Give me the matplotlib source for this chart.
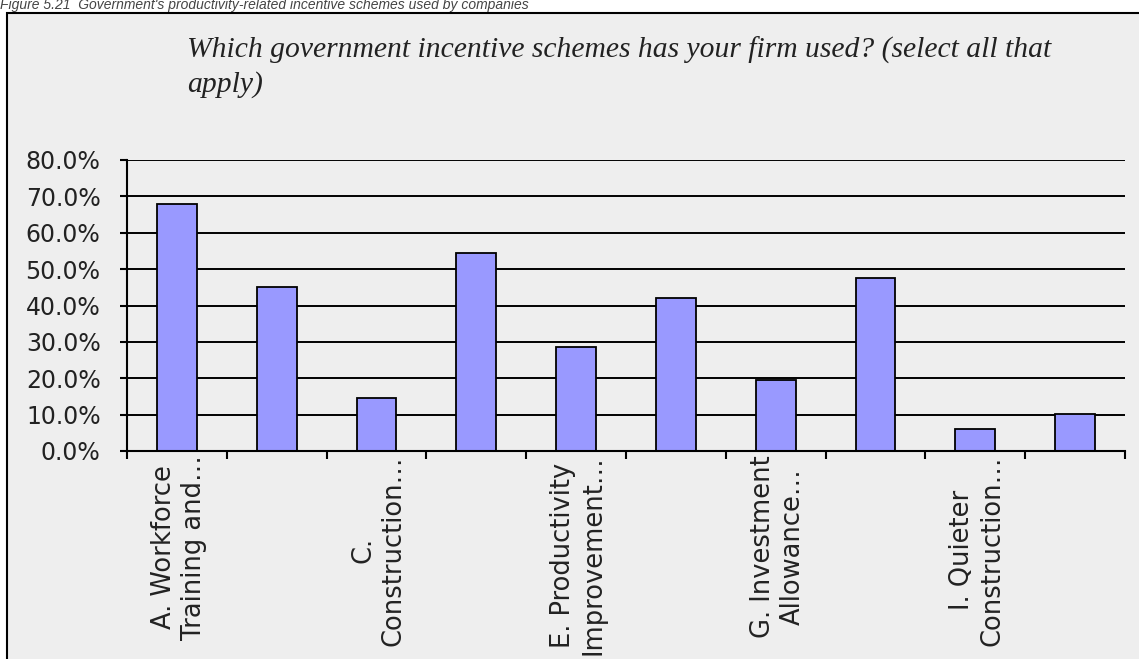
import matplotlib
matplotlib.use("Agg")
import matplotlib.pyplot as plt
from matplotlib.patches import Rectangle
from matplotlib.ticker import FuncFormatter, FixedLocator

# share of firms that used each incentive scheme
schemes = ["A", "B", "C", "D", "E", "F", "G", "H", "I", "J"]
share_used = [0.678, 0.451, 0.145, 0.543, 0.287, 0.421, 0.195, 0.476, 0.060, 0.102]

# only every second category gets a label on the axis
shown_labels = {
    0: "A. Workforce\nTraining and\u2026",
    2: "C.\nConstruction\u2026",
    4: "E. Productivity\nImprovement\u2026",
    6: "G. Investment\nAllowance\u2026",
    8: "I. Quieter\nConstruction\u2026",
}
y_ticks = [0.0, 0.1, 0.2, 0.3, 0.4, 0.5, 0.6, 0.7, 0.8]

caption = "Figure 5.21  Government's productivity-related incentive schemes used by companies"
question = "Which government incentive schemes has your firm used? (select all that\napply)"

W, H = 1139, 659
fig = plt.figure(figsize=(W / 100, H / 100), dpi=100, facecolor="white")

# grey chart frame, open to the right and bottom
frame = Rectangle((7 / W, -0.2), 1.2, 1.2 - 12.5 / H, transform=fig.transFigure,
                  facecolor="#eeeeee", edgecolor="black", linewidth=1.5, zorder=-10)
fig.patches.append(frame)

fig.text(0.0, 1 - 9.5 / H, caption, fontsize=10, style="italic", color="#444444",
         family="Liberation Sans", ha="left", va="baseline")
fig.text(187 / W, 1 - 37 / H, question, fontsize=21.3, style="italic", color="#222222",
         family="Liberation Serif", ha="left", va="top", linespacing=1.35)

ax = fig.add_axes([127 / W, 1 - 451 / H, (1125 - 127) / W, (451 - 160) / H])
ax.patch.set_visible(False)

x = list(range(len(schemes)))
ax.bar(x, share_used, width=0.4, color="#9999ff", edgecolor="black", linewidth=1.3, zorder=3)

ax.set_xlim(-0.5, len(schemes) - 0.5)
ax.set_ylim(0, 0.8)
ax.yaxis.set_major_locator(FixedLocator(y_ticks))
ax.yaxis.set_major_formatter(FuncFormatter(lambda v, p: "%.1f%%" % (v * 100)))
ax.grid(axis="y", color="black", linewidth=1.4, zorder=1)
ax.set_axisbelow(True)

for s in ["top", "right"]:
    ax.spines[s].set_visible(False)
for s in ["left", "bottom"]:
    ax.spines[s].set_linewidth(1.5)
    ax.spines[s].set_zorder(4)

ax.set_xticks([i - 0.5 for i in range(len(schemes) + 1)])
ax.set_xticklabels([])
ax.tick_params(axis="x", direction="out", length=6, width=1.5)
ax.tick_params(axis="y", direction="out", length=5, width=1.5, pad=14,
               labelsize=17, labelcolor="#222222")

for i, lab in shown_labels.items():
    ax.annotate(lab, xy=(i + 0.02, 0), xycoords=("data", "axes fraction"),
                xytext=(0, -4), textcoords="offset pixels",
                rotation=90, ha="center", va="top", multialignment="center",
                fontsize=18.5, color="#222222", linespacing=1.2)

fig.savefig("out.png", dpi=100)
